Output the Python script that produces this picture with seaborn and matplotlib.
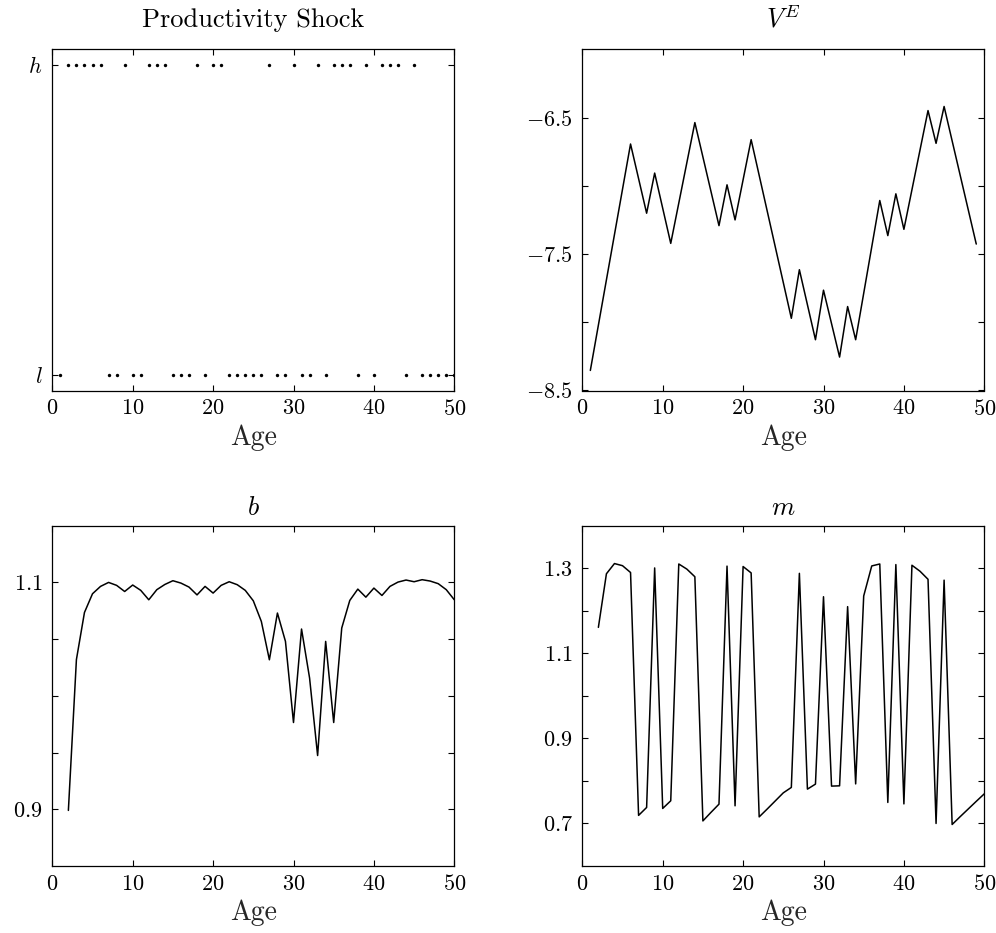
import matplotlib
matplotlib.use("Agg")
import matplotlib.pyplot as plt
import seaborn as sns
import pandas as pd

# ---------------- data ----------------
shock_ages = list(range(1, 51))
high_ages = [2, 3, 4, 5, 6, 9, 12, 13, 14, 18, 20, 21, 27, 30, 33, 35, 36, 37,
             39, 41, 42, 43, 45]
shock_state = [1 if a in high_ages else 0 for a in shock_ages]

ve_ages = [1, 6, 8, 9, 11, 14, 17, 18, 19, 21, 26, 27, 29, 30, 32, 33, 34, 37,
           38, 39, 40, 43, 44, 45, 49]
ve_values = [-8.353, -6.694, -7.201, -6.907, -7.422, -6.537, -7.292, -6.993,
             -7.25, -6.662, -7.971, -7.615, -8.128, -7.765, -8.255, -7.885,
             -8.128, -7.108, -7.365, -7.059, -7.319, -6.449, -6.689, -6.419,
             -7.427]

bm_ages = list(range(2, 51))
b_values = [0.899, 1.032, 1.0735, 1.090, 1.0965, 1.100, 1.0974, 1.092, 1.0977,
            1.093, 1.0847, 1.0936, 1.0982, 1.1015, 1.0994, 1.0959, 1.089,
            1.0965, 1.0906, 1.0974, 1.1006, 1.098, 1.093, 1.0838, 1.0656,
            1.0318, 1.073, 1.048, 0.9765, 1.0589, 1.0157, 0.9474, 1.048,
            0.9765, 1.0598, 1.0841, 1.0941, 1.087, 1.095, 1.0885, 1.0965,
            1.1003, 1.1021, 1.1006, 1.1024, 1.1012, 1.0989, 1.0936, 1.0847]
m_values = [1.161, 1.287, 1.311, 1.306, 1.29, 0.719, 0.7376, 1.3007, 0.7353,
            0.7533, 1.31, 1.298, 1.28, 0.706, 0.726, 0.7454, 1.305, 0.7415,
            1.304, 1.289, 0.7155, 0.734, 0.753, 0.772, 0.7847, 1.288, 0.7807,
            0.7925, 1.233, 0.7878, 0.7885, 1.2097, 0.793, 1.2348, 1.3054,
            1.31, 0.7494, 1.3086, 0.746, 1.307, 1.293, 1.274, 0.700, 1.272,
            0.6976, 0.716, 0.734, 0.752, 0.7697]

x_ticks = [0, 10, 20, 30, 40, 50]

# ---------------- style ----------------
sns.set_theme(style="ticks")
plt.rcParams.update({
    "font.family": ["cmr10", "DejaVu Serif"],
    "mathtext.fontset": "cm",
    "axes.formatter.use_mathtext": True,
    "axes.edgecolor": "black",
    "axes.linewidth": 0.9,
    "text.color": "black",
    "xtick.direction": "in",
    "ytick.direction": "in",
    "xtick.top": True,
    "ytick.right": True,
    "xtick.major.size": 4,
    "ytick.major.size": 4,
    "xtick.major.width": 0.8,
    "ytick.major.width": 0.8,
    "xtick.color": "black",
    "ytick.color": "black",
    "xtick.labelsize": 16,
    "ytick.labelsize": 16,
    "xtick.major.pad": 6,
    "ytick.major.pad": 7,
})

fig = plt.figure(figsize=(9.96, 9.33), dpi=100)
W, H = 996, 933


def make_ax(x0, y0, x1, y1):
    return fig.add_axes([x0 / W, 1 - y1 / H, (x1 - x0) / W, (y1 - y0) / H])


ax1 = make_ax(52.3, 49.3, 454.3, 390.5)
ax2 = make_ax(582.3, 49.3, 984.3, 390.5)
ax3 = make_ax(52.3, 525.7, 454.3, 866)
ax4 = make_ax(582.3, 525.7, 984.3, 866)

df_shock = pd.DataFrame({"Age": shock_ages, "state": shock_state})
sns.scatterplot(data=df_shock, x="Age", y="state", ax=ax1, color="black",
                s=6, linewidth=0, marker="o")
ax1.set_ylim(-0.05, 1.05)
ax1.set_yticks([0, 1])
ax1.set_yticklabels([r"$l$", r"$h$"])
ax1.set_title("Productivity Shock", fontsize=19, pad=16)

df_ve = pd.DataFrame({"Age": ve_ages, "VE": ve_values})
sns.lineplot(data=df_ve, x="Age", y="VE", ax=ax2, color="black", lw=1.1)
ax2.set_ylim(-8.5, -6.0)
ax2.set_yticks([-8.5, -8.0, -7.5, -7.0, -6.5])
ax2.set_yticklabels([r"$-8.5$", "", r"$-7.5$", "", r"$-6.5$"])
ax2.set_title(r"$V^E$", fontsize=19, pad=16)

df_bm = pd.DataFrame({"Age": bm_ages, "b": b_values, "m": m_values})
sns.lineplot(data=df_bm, x="Age", y="b", ax=ax3, color="black", lw=1.1)
ax3.set_ylim(0.85, 1.15)
ax3.set_yticks([0.9, 0.95, 1.0, 1.05, 1.1])
ax3.set_yticklabels([r"$0.9$", "", "", "", r"$1.1$"])
ax3.set_title(r"$b$", fontsize=19, pad=8)

sns.lineplot(data=df_bm, x="Age", y="m", ax=ax4, color="black", lw=1.1)
ax4.set_ylim(0.6, 1.4)
ax4.set_yticks([0.7, 0.8, 0.9, 1.0, 1.1, 1.2, 1.3])
ax4.set_yticklabels([r"$0.7$", "", r"$0.9$", "", r"$1.1$", "", r"$1.3$"])
ax4.set_title(r"$m$", fontsize=19, pad=8)

for ax in (ax1, ax2, ax3, ax4):
    ax.set_xlim(0, 50)
    ax.set_xticks(x_ticks)
    ax.set_xticklabels([rf"${t}$" for t in x_ticks])
    ax.set_xlabel("Age", fontsize=20, labelpad=4)
    ax.set_ylabel("")
    for s in ax.spines.values():
        s.set_visible(True)

fig.savefig("out.png", dpi=100)
